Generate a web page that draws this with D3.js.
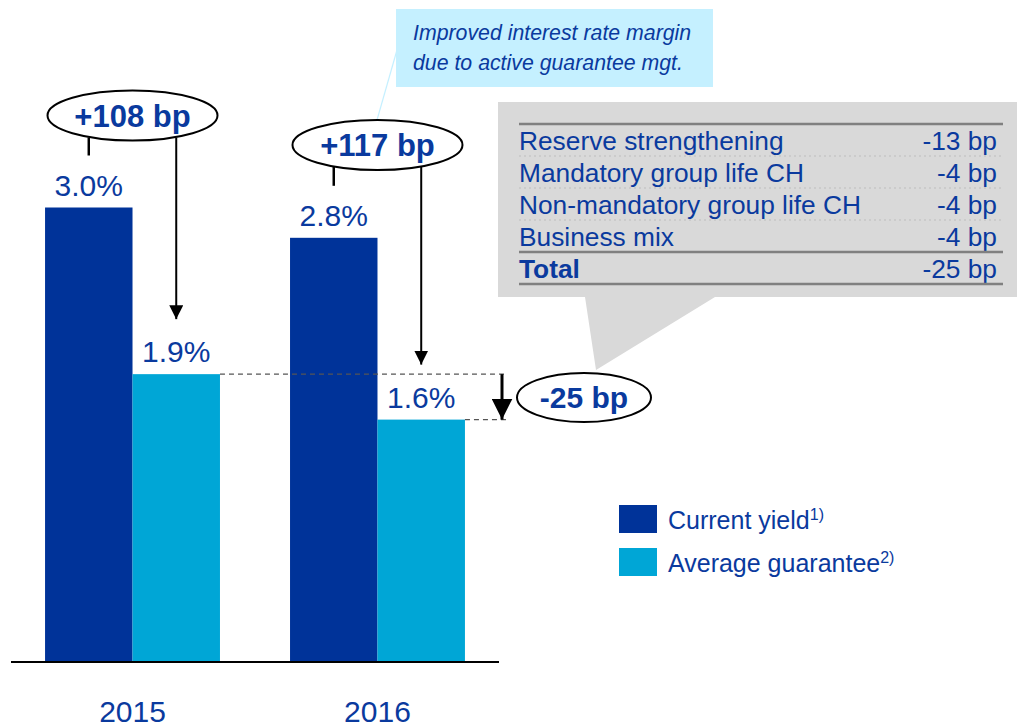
<!DOCTYPE html>
<html lang="en">
<head>
<meta charset="utf-8">
<title>Current yield vs average guarantee</title>
<script src="https://cdn.jsdelivr.net/npm/d3@7"></script>
<style>
  body { margin: 0; background: #fff; }
  svg { font-family: "Liberation Sans", Arial, sans-serif; }
</style>
</head>
<body>
<script>
// data
var years = ["2015", "2016"];
var seriesNames = ["Current yield", "Average guarantee"];
var seriesNotes = ["1)", "2)"];
var currentYield = [3.0, 2.8];
var avgGuarantee = [1.9, 1.6];
var marginLabels = ["+108 bp", "+117 bp"];
var changeLabel = "-25 bp";
var breakdownItems = ["Reserve strengthening", "Mandatory group life CH", "Non-mandatory group life CH", "Business mix"];
var breakdownValues = ["-13 bp", "-4 bp", "-4 bp", "-4 bp"];
var totalLabel = "Total", totalValue = "-25 bp";
var calloutText = ["Improved interest rate margin", "due to active guarantee mgt."];

var w = 1017, h = 727;
var blue = "#003399", cyan = "#00A6D6", txt = "#0A3A9E";

var svg = d3.select("body").append("svg").attr("width", w).attr("height", h);

var defs = svg.append("defs");
defs.append("marker").attr("id", "arr")
  .attr("viewBox", "0 0 10 10").attr("refX", 10).attr("refY", 5)
  .attr("markerWidth", 7).attr("markerHeight", 7).attr("markerUnits", "strokeWidth")
  .attr("orient", "auto")
  .append("path").attr("d", "M0,0 L10,5 L0,10 z").attr("fill", "#000");

var x0 = d3.scaleBand().domain(years).range([11, 499]).paddingInner(0.286).paddingOuter(0.139);
var x1 = d3.scaleBand().domain(seriesNames).range([0, x0.bandwidth()]);
var y = d3.scaleLinear().domain([0, 4]).range([662, 56]);
var color = d3.scaleOrdinal().domain(seriesNames).range([blue, cyan]);

var rows = years.map(function(yr, i) {
  return { year: yr, vals: [ { s: seriesNames[0], v: currentYield[i] }, { s: seriesNames[1], v: avgGuarantee[i] } ] };
});

// gray breakdown box with tail
var gb = svg.append("g");
gb.append("path")
  .attr("d", "M498,102 L1017,102 L1017,297 L715,297 L596,370 L585,297 L498,297 Z")
  .attr("fill", "#D9D9D9");

var tx0 = 519, tx1 = 1003, rowH = 32, top0 = 124, fs = 26.3;
gb.append("line").attr("x1", tx0).attr("x2", tx1).attr("y1", top0).attr("y2", top0)
  .attr("stroke", "#808080").attr("stroke-width", 2.5);
breakdownItems.forEach(function(d, i) {
  var yy = top0 + rowH * i;
  gb.append("text").attr("x", tx0).attr("y", yy + 26).attr("fill", txt)
    .attr("font-size", fs).text(d);
  gb.append("text").attr("x", 997).attr("y", yy + 26).attr("fill", txt)
    .attr("font-size", fs).attr("text-anchor", "end").text(breakdownValues[i]);
  if (i < breakdownItems.length - 1) {
    gb.append("line").attr("x1", tx0).attr("x2", tx1).attr("y1", yy + rowH).attr("y2", yy + rowH)
      .attr("stroke", "#BDBDBD").attr("stroke-width", 1.2).attr("stroke-dasharray", "2,3");
  }
});
var ty = top0 + rowH * breakdownItems.length;
gb.append("line").attr("x1", tx0).attr("x2", tx1).attr("y1", ty).attr("y2", ty)
  .attr("stroke", "#808080").attr("stroke-width", 2.5);
gb.append("text").attr("x", tx0).attr("y", ty + 26).attr("fill", txt)
  .attr("font-size", fs).attr("font-weight", "bold").text(totalLabel);
gb.append("text").attr("x", 997).attr("y", ty + 26).attr("fill", txt)
  .attr("font-size", fs).attr("text-anchor", "end").text(totalValue);
gb.append("line").attr("x1", tx0).attr("x2", tx1).attr("y1", ty + rowH).attr("y2", ty + rowH)
  .attr("stroke", "#808080").attr("stroke-width", 2.5);

// cyan callout
svg.append("line").attr("x1", 397).attr("y1", 50).attr("x2", 377).attr("y2", 120)
  .attr("stroke", "#C5F0FF").attr("stroke-width", 1.2);
svg.append("rect").attr("x", 396).attr("y", 9).attr("width", 317).attr("height", 78).attr("fill", "#C5F0FF");
calloutText.forEach(function(t, i) {
  svg.append("text").attr("x", 413).attr("y", 40 + i * 30).attr("fill", txt)
    .attr("font-size", 21.3).attr("font-style", "italic").text(t);
});

// bars
var groups = svg.selectAll("g.grp").data(rows).enter().append("g")
  .attr("class", "grp")
  .attr("transform", function(d) { return "translate(" + x0(d.year) + ",0)"; });

groups.selectAll("rect").data(function(d) { return d.vals; }).enter().append("rect")
  .attr("x", function(d) { return x1(d.s); })
  .attr("y", function(d) { return y(d.v); })
  .attr("width", x1.bandwidth())
  .attr("height", function(d) { return y(0) - y(d.v); })
  .attr("fill", function(d) { return color(d.s); });

groups.selectAll("text.val").data(function(d) { return d.vals; }).enter().append("text")
  .attr("class", "val")
  .attr("x", function(d) { return x1(d.s) + x1.bandwidth() / 2; })
  .attr("y", function(d) { return y(d.v) - 12; })
  .attr("text-anchor", "middle").attr("font-size", 30).attr("fill", txt)
  .text(function(d) { return d.v.toFixed(1) + "%"; });

// axis baseline + year labels
svg.append("line").attr("x1", 11).attr("x2", 499).attr("y1", y(0)).attr("y2", y(0))
  .attr("stroke", "#000").attr("stroke-width", 2);
svg.selectAll("text.year").data(years).enter().append("text")
  .attr("class", "year")
  .attr("x", function(d) { return x0(d) + x0.bandwidth() / 2; })
  .attr("y", 722).attr("text-anchor", "middle").attr("font-size", 30).attr("fill", txt)
  .text(function(d) { return d; });

// margin ellipses with connectors
var ellY = [115.5, 145];
rows.forEach(function(r, i) {
  var gx = x0(r.year);
  var cx = gx + x0.bandwidth() / 2;
  var leftX = gx + x1.bandwidth() / 2;
  var rightX = gx + x1(seriesNames[1]) + x1.bandwidth() / 2;
  var cy = ellY[i];
  // short line to current-yield label
  svg.append("line").attr("x1", leftX).attr("x2", leftX)
    .attr("y1", cy + 22).attr("y2", y(r.vals[0].v) - 52)
    .attr("stroke", "#000").attr("stroke-width", 2.5);
  // arrow to guarantee label
  svg.append("line").attr("x1", rightX).attr("x2", rightX)
    .attr("y1", cy + 22).attr("y2", y(r.vals[1].v) - 55)
    .attr("stroke", "#000").attr("stroke-width", 2).attr("marker-end", "url(#arr)");
  svg.append("ellipse").attr("cx", cx).attr("cy", cy).attr("rx", 85).attr("ry", 25)
    .attr("fill", "#fff").attr("stroke", "#000").attr("stroke-width", 2);
  svg.append("text").attr("x", cx).attr("y", cy + 11).attr("text-anchor", "middle")
    .attr("font-size", 31).attr("font-weight", "bold").attr("fill", txt).text(marginLabels[i]);
});

// change in guarantee
var yA = y(avgGuarantee[0]), yB = y(avgGuarantee[1]);
var ax = 502;
svg.append("line").attr("x1", x0("2015") + x0.bandwidth()).attr("x2", 506).attr("y1", yA).attr("y2", yA)
  .attr("stroke", "#555").attr("stroke-width", 1.3).attr("stroke-dasharray", "5,4");
svg.append("line").attr("x1", x0("2016") + x0.bandwidth()).attr("x2", 506).attr("y1", yB).attr("y2", yB)
  .attr("stroke", "#555").attr("stroke-width", 1.3).attr("stroke-dasharray", "5,4");
svg.append("line").attr("x1", ax).attr("x2", ax).attr("y1", yA).attr("y2", yB)
  .attr("stroke", "#000").attr("stroke-width", 3).attr("marker-end", "url(#arr)");
svg.append("ellipse").attr("cx", 584).attr("cy", 397.5).attr("rx", 67).attr("ry", 24.5)
  .attr("fill", "#fff").attr("stroke", "#000").attr("stroke-width", 2);
svg.append("text").attr("x", 584).attr("y", 408).attr("text-anchor", "middle")
  .attr("font-size", 30).attr("font-weight", "bold").attr("fill", txt).text(changeLabel);

// legend
var lg = svg.append("g").attr("transform", "translate(619,505)");
seriesNames.forEach(function(s, i) {
  var g = lg.append("g").attr("transform", "translate(0," + (i * 43) + ")");
  g.append("rect").attr("width", 38).attr("height", 28).attr("fill", color(s));
  var t = g.append("text").attr("x", 49).attr("y", 24).attr("font-size", 25).attr("fill", txt);
  t.append("tspan").text(s);
  t.append("tspan").attr("font-size", 16).attr("dy", -9).text(seriesNotes[i]);
});
</script>
</body>
</html>
